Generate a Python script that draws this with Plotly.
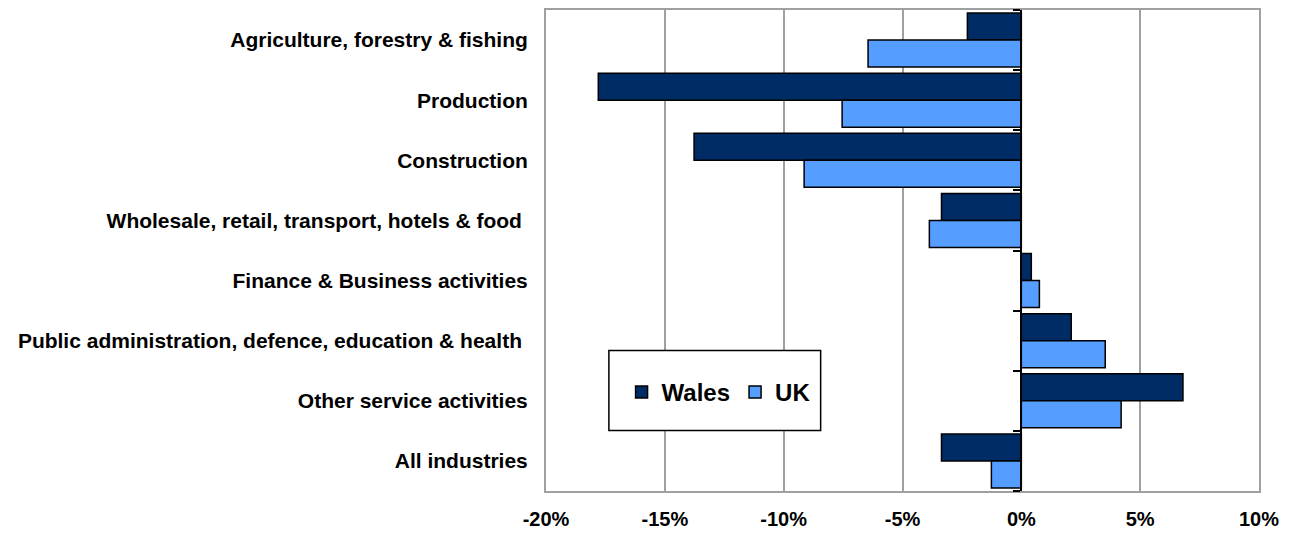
import plotly.graph_objects as go

categories = [
    "Agriculture, forestry & fishing",
    "Production",
    "Construction",
    "Wholesale, retail, transport, hotels & food ",
    "Finance & Business activities",
    "Public administration, defence, education & health ",
    "Other service activities",
    "All industries",
]
wales = [-2.27, -17.8, -13.77, -3.36, 0.42, 2.1, 6.8, -3.36]
uk = [-6.45, -7.54, -9.14, -3.87, 0.76, 3.53, 4.2, -1.26]
x_ticks = [-20, -15, -10, -5, 0, 5, 10]
x_tick_labels = ["-20%", "-15%", "-10%", "-5%", "0%", "5%", "10%"]
boundaries = [i - 0.5 for i in range(len(categories) + 1)]

fig = go.Figure()
fig.add_trace(go.Bar(
    y=list(range(len(categories))), x=wales, orientation="h", name="Wales",
    marker=dict(color="#002C66", line=dict(color="black", width=1.5)),
))
fig.add_trace(go.Bar(
    y=list(range(len(categories))), x=uk, orientation="h", name="UK",
    marker=dict(color="#559DFF", line=dict(color="black", width=1.5)),
))
# invisible trace to carry the zero-position tick axis
fig.add_trace(go.Scatter(x=[0], y=[0], yaxis="y2", mode="markers",
                         marker=dict(opacity=0), showlegend=False, hoverinfo="skip"))

zero_frac = (0 - (-20)) / (10 - (-20))

fig.update_layout(
    width=1287, height=525,
    margin=dict(l=538, r=36, t=0, b=42),
    paper_bgcolor="white", plot_bgcolor="white",
    barmode="group", bargap=0.1, bargroupgap=0,
    font=dict(family="Arial, Liberation Sans, sans-serif", color="black"),
    xaxis=dict(
        range=[-20, 10], tickvals=x_ticks, ticktext=x_tick_labels,
        showgrid=True, gridcolor="#A0A0A0", gridwidth=2,
        showline=True, linecolor="#A0A0A0", linewidth=2, mirror=True,
        zeroline=False, ticks="",
        tickfont=dict(family="Arial, Liberation Sans", size=20, color="black",
                      weight="bold"),
        ticklabelstandoff=9,
    ),
    yaxis=dict(
        range=[7.5, -0.5], tickvals=list(range(len(categories))), ticktext=categories,
        showgrid=False, zeroline=False,
        showline=True, linecolor="#A0A0A0", linewidth=2, mirror=True,
        ticks="", tickfont=dict(size=21, weight="bold", color="black"),
        ticklabelstandoff=12,
    ),
    yaxis2=dict(
        overlaying="y", anchor="free", position=zero_frac, side="left",
        range=[7.5, -0.5], tickvals=boundaries, showticklabels=False,
        ticks="outside", ticklen=7, tickwidth=2, tickcolor="black",
        showline=True, linecolor="black", linewidth=2,
        showgrid=False, zeroline=False,
    ),
    showlegend=True,
    legend=dict(
        orientation="h", x=0.106, y=0.205, xanchor="left", yanchor="middle",
        bgcolor="rgba(0,0,0,0)", borderwidth=0,
        font=dict(size=24, weight="bold", color="black"),
        itemwidth=30, tracegroupgap=0,
    ),
    shapes=[dict(type="rect", xref="paper", yref="paper",
                 x0=0.0882, x1=0.3852, y0=0.126, y1=0.292,
                 line=dict(color="black", width=1.5), fillcolor="white", layer="above")],
)
fig.write_html("out.html")
